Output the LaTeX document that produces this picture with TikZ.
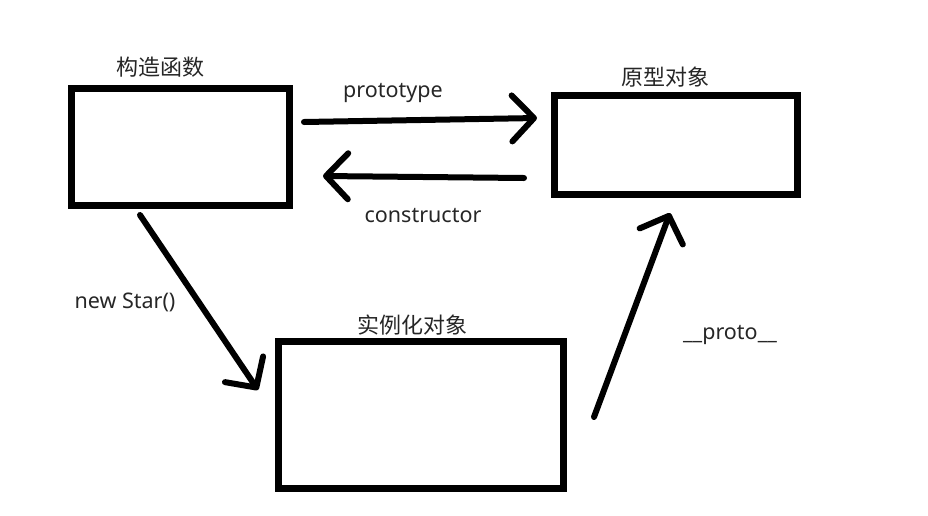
\documentclass[tikz,border=0pt]{standalone}
\usepackage{fontspec}
\setmainfont{Noto Sans}
\newfontfamily\cjk{Noto Sans CJK SC}
\usetikzlibrary{arrows.meta}

\tikzset{
  box/.style={draw, line width=7pt, inner sep=0pt},
  link/.style={line width=6pt, line cap=round,
    -{Straight Barb[length=22pt,width=46pt,round]}},
  tag/.style={font=\fontsize{21.5}{25}\selectfont, text=black!85},
  title/.style={font=\cjk\fontsize{22}{26}\selectfont, text=black!85}
}

\begin{document}
\begin{tikzpicture}[x=1pt,y=-1pt]
  \useasboundingbox (0,0) rectangle (928,515);
  % the three boxes
  \node[box, minimum width=218pt, minimum height=117pt] (ctor) at (180.5,147) {};
  \node[box, minimum width=243pt, minimum height=99pt] (proto) at (676,145) {};
  \node[box, minimum width=285pt, minimum height=147pt] (inst) at (421,415) {};
  % box titles
  \node[title] (ctortitle) at (160,67) {构造函数};
  \node[title] (prototitle) at (665,77) {原型对象};
  \node[title] (insttitle) at (412,325) {实例化对象};
  % free ends of the connectors
  \coordinate (a1) at (304,122);
  \coordinate (a2) at (537,118);
  \coordinate (b1) at (524,178);
  \coordinate (b2) at (323,176);
  \coordinate (c1) at (140,215);
  \coordinate (c2) at (258,390);
  \coordinate (d1) at (594,417);
  \coordinate (d2) at (670,213);
  \draw[link] (a1) -- (a2);
  \draw[link] (b1) -- (b2);
  \draw[link] (c1) -- (c2);
  \draw[link] (d1) -- (d2);
  % connector labels
  \node[tag] (prototag) at (393,93) {prototype};
  \node[tag] (ctortag) at (423,216) {constructor};
  \node[tag] (newtag) at (125,302) {new Star()};
  \node[tag] (linktag) at (730,335) {\_\_proto\_\_};
\end{tikzpicture}
\end{document}
